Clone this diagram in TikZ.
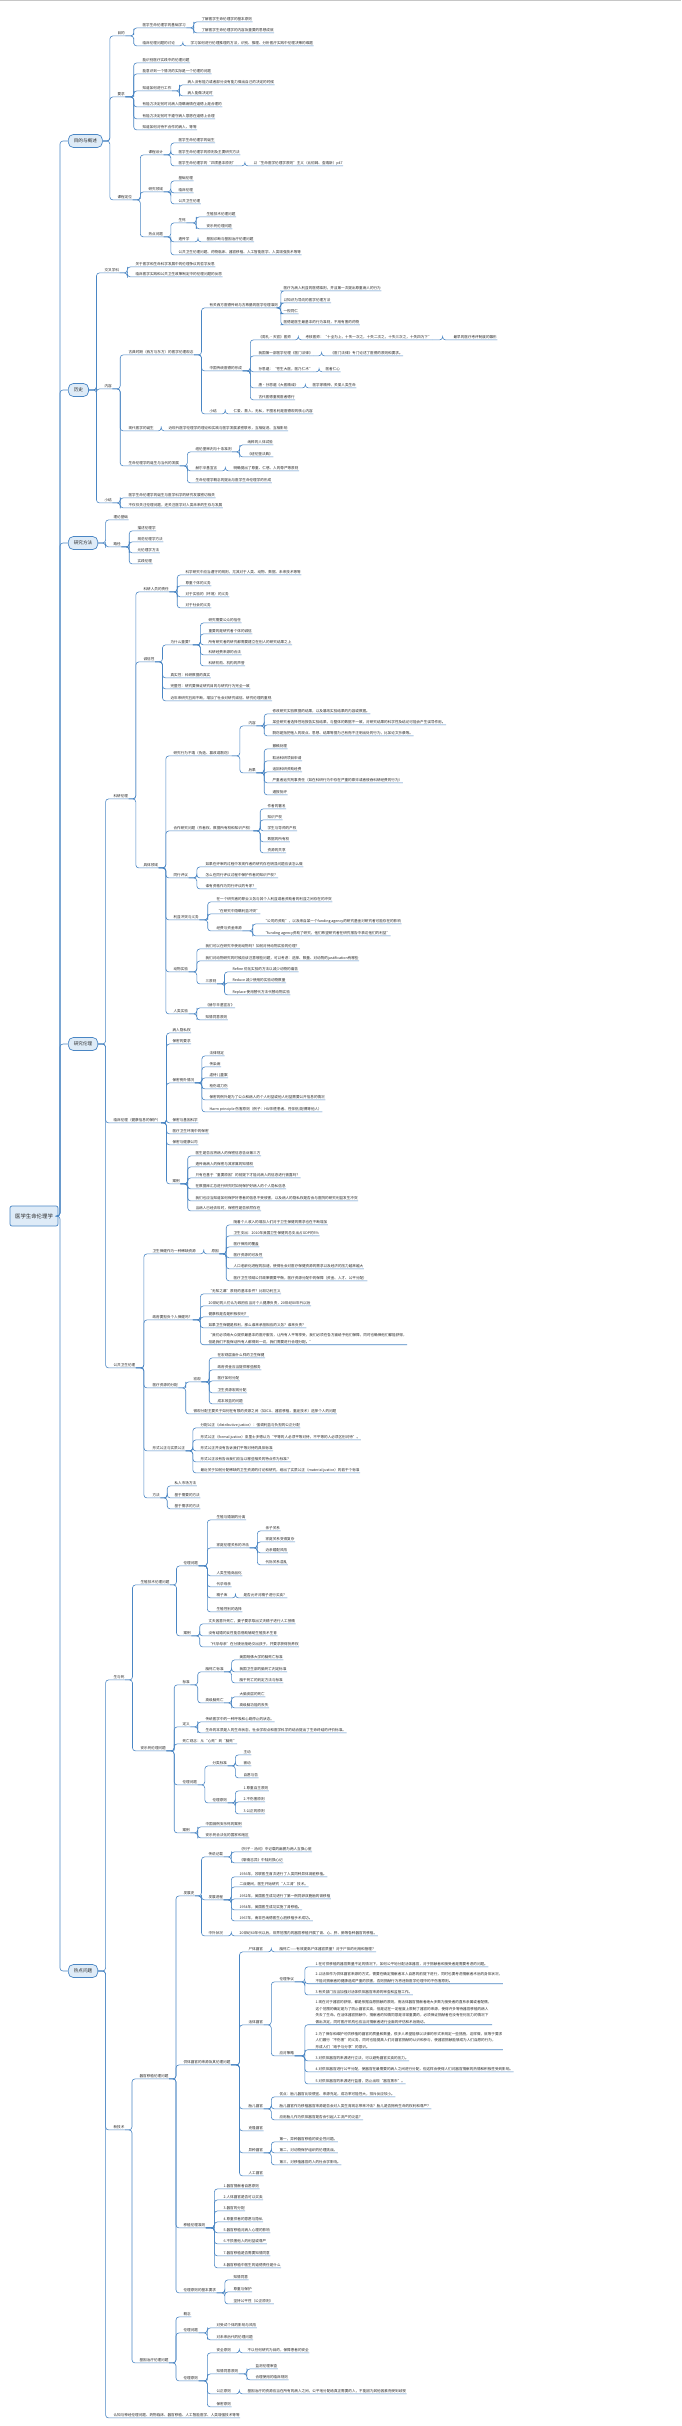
\documentclass[tikz,border=0pt]{standalone}
\usepackage{fontspec}
\setmainfont{Noto Sans CJK SC}
\usetikzlibrary{calc}
\definecolor{cL}{RGB}{74,134,196}
\definecolor{cF}{RGB}{222,235,247}
\definecolor{cT}{RGB}{40,40,40}
\newcommand\fs{\fontsize{3.6}{4.3}\selectfont}
\newcommand\fm{\fontsize{3.6}{6.6}\selectfont}
\newcommand\fbx{\fontsize{4.6}{5.5}\selectfont}
\newcommand\frt{\fontsize{5.4}{6.5}\selectfont}
\newcommand\kid[5]{\node[tn] (#2) at (#3,#4) {#5};\draw[cn] (#1.south east) -| ($(#1.south east)!.5!(#2.south west)$) |- (#2.south west) -- (#2.south east);}
\newcommand\bkid[5]{\node[tn] (#2) at (#3,#4) {#5};\draw[cn] (#1.east) -| ($(#1.east)!.5!(#2.south west)$) |- (#2.south west) -- (#2.south east);}
\newcommand\mkid[5]{\node[tm] (#2) at (#3,#4+2.7) {#5};\draw[cn] (#1.south east) -| ($(#1.south east)!.5!(#2.south west)$) |- (#2.south west) -- (#2.south east);}
\newcommand\trunk[1]{\draw[cn] (root.east) -- (60,1216) |- (#1.west);}
\begin{document}
\begin{tikzpicture}[x=1pt,y=-1pt,
  tn/.style={anchor=west,font=\fs,text=cT,inner xsep=0.4pt,inner ysep=0.9pt,text height=3.1pt,text depth=0.5pt},
  tm/.style={anchor=south west,font=\fm,text=cT,inner xsep=0.4pt,inner ysep=0.9pt,align=left},
  cn/.style={draw=cL,line width=0.6pt,rounded corners=3pt},
  bx/.style={draw=cL,fill=cF,line width=0.7pt,rounded corners=5pt,anchor=west,font=\fbx,text=cT,minimum height=13pt,inner xsep=5.5pt},
  rt/.style={draw=cL,fill=cF,line width=0.7pt,rounded corners=2pt,font=\frt,text=cT,minimum height=20pt,minimum width=48pt}]
\useasboundingbox (0,0) rectangle (681,2426);
\fill[white] (0,0) rectangle (681,2426);
\draw[gray!45,line width=1pt] (0,0.5) -- (681,0.5);

\node[rt] (root) at (34,1216) {医学生命伦理学};
\node[bx] (A) at (68,141) {目的与概述};
\node[bx] (B) at (68,390) {历史};
\node[bx] (Cb) at (68,543) {研究方法};
\node[bx] (D) at (68,1044) {研究伦理};
\node[bx] (E) at (68,1971) {热点问题};
\trunk{A}\trunk{B}\trunk{Cb}\trunk{D}\trunk{E}

% ---------- A
\bkid{A}{A1}{117}{33}{目的}
\kid{A1}{A11}{142}{25}{医学生命伦理学的基础学习}
\kid{A11}{A111}{201}{19}{了解医学生命伦理学的基本原则}
\kid{A11}{A112}{201}{30}{了解医学生命伦理学的内容及重要的思想成就}
\kid{A1}{A12}{142}{43}{临床伦理问题的讨论}
\kid{A12}{A121}{190}{43}{学习如何进行伦理推理的方法，识别、推理、分析医疗实践中伦理决策的难题}
\bkid{A}{A2}{117}{94}{要求}
\kid{A2}{A21}{142}{60}{能识别医疗实践中的伦理问题}
\kid{A2}{A22}{142}{71}{能意识到一个情况的实际是一个伦理的问题}
\kid{A2}{A23}{142}{88}{知道如何进行工作}
\kid{A23}{A231}{187}{82}{病人没有能力或者部分没有能力做出自己的决定的时候}
\kid{A23}{A232}{187}{93}{病人能做决定时}
\kid{A2}{A24}{142}{104}{有能力决定何时对病人隐瞒病情在道德上是合理的}
\kid{A2}{A25}{142}{116}{有能力决定何时不遵守病人意愿在道德上合理}
\kid{A2}{A26}{142}{127}{知道如何对待不合作的病人、等等}
\bkid{A}{A3}{117}{197}{课程定位}
\kid{A3}{A31}{148}{152}{课程设计}
\kid{A31}{A311}{178}{140}{医学生命伦理学的诞生}
\kid{A31}{A312}{178}{152}{医学生命伦理学的原则及主要研究方法}
\kid{A31}{A313}{178}{163}{医学生命伦理学的“四项基本原则”}
\kid{A313}{A3131}{253}{163}{以“生命医学伦理学原则”主义（比彻姆、查瑞斯）p47}
\kid{A3}{A32}{148}{189}{研究领域}
\kid{A32}{A321}{178}{178}{基础伦理}
\kid{A32}{A322}{178}{190}{临床伦理}
\kid{A32}{A323}{178}{201}{公共卫生伦理}
\kid{A3}{A33}{148}{234}{热点问题}
\kid{A33}{A331}{178}{220}{生死}
\kid{A331}{A3311}{206}{214}{生殖技术伦理问题}
\kid{A331}{A3312}{206}{226}{安乐死伦理问题}
\kid{A33}{A332}{178}{239}{遗传学}
\kid{A332}{A3321}{206}{239}{基因诊断与基因治疗伦理问题}
\kid{A33}{A333}{178}{252}{公共卫生伦理问题、药物临床、器官移植、人工智能医学、人类增强技术等等}

% ---------- B
\bkid{B}{B1}{104}{270}{交叉学科}
\kid{B1}{B11}{135}{264}{关于医学和生命科学发展中的伦理争议的哲学反思}
\kid{B1}{B12}{135}{274}{临床医学实践和公共卫生政策制定中的伦理问题的反思}
\bkid{B}{B2}{104}{386}{内容}
\kid{B2}{B21}{128}{352}{古典时期（西方与东方）的医学伦理观念}
\kid{B21}{B211}{209}{305}{有关西方医德传统与古希腊的医学伦理准则}
\kid{B211}{B2111}{283}{288}{医疗为病人利益的医德准则，并且第一次提出尊重病人的行为}
\kid{B211}{B2112}{283}{300}{以知识为导向的医学伦理方法}
\kid{B211}{B2113}{283}{311}{一视同仁}
\kid{B211}{B2114}{283}{322}{医德是医生最基本的行为准则，不用有害的药物}
\kid{B21}{B212}{209}{368}{中国传统医德的形成}
\kid{B212}{B2121}{258}{337}{《周礼·天官》医师}
\kid{B2121}{B21211}{305}{337}{考核医师：“十全为上，十失一次之，十失二次之，十失三次之，十失四为下”}
\kid{B21211}{B212111}{453}{337}{最早的医疗考评制度的雏形}
\kid{B212}{B2122}{258}{353}{我国第一部医学伦理《医门法律》}
\kid{B2122}{B21221}{330}{353}{《医门法律》专门论述了医德的原则和要求。}
\kid{B212}{B2123}{258}{369}{孙思邈：“苍生大医，医乃仁术”}
\kid{B2123}{B21231}{325}{369}{医者仁心}
\kid{B212}{B2124}{258}{385}{唐·孙思邈《大医精诚》}
\kid{B2124}{B21241}{312}{385}{医学家精神，关爱人类生命}
\kid{B212}{B2125}{258}{397}{古代医德重视医者德行}
\kid{B21}{B213}{209}{411}{小结}
\kid{B213}{B2131}{233}{411}{仁爱、救人、无私，不图名利是医德观的核心内容}
\kid{B2}{B22}{128}{428}{现代医学的诞生}
\kid{B22}{B221}{168}{428}{近现代医学伦理学的理论和实践与医学发展紧密联系，互相促进、互相影响}
\kid{B2}{B23}{128}{463}{生命伦理学的诞生与当代的发展}
\kid{B23}{B231}{195}{449}{纽伦堡审判与十条准则}
\kid{B231}{B2311}{247}{442}{纳粹的人体试验}
\kid{B231}{B2312}{247}{454}{《纽伦堡法典》}
\kid{B23}{B232}{195}{468}{赫尔辛基宣言}
\kid{B232}{B2321}{233}{468}{明确提出了尊重、仁慈、人的尊严等原则}
\kid{B23}{B233}{195}{480}{生命伦理学概念的提出与医学生命伦理学的形成}
\bkid{B}{B3}{104}{500}{小结}
\kid{B3}{B31}{128}{495}{医学生命伦理学的诞生与医学科学的研究发展密切相关}
\kid{B3}{B32}{128}{505}{不仅仅关注伦理问题，还关注医学对人类未来的生存与发展}

% ---------- C
\bkid{Cb}{C1}{113}{517}{理论基础}
\bkid{Cb}{C2}{113}{544}{路径}
\kid{C2}{C21}{137}{528}{描述伦理学}
\kid{C2}{C22}{137}{539}{规范伦理学方法}
\kid{C2}{C23}{137}{550}{元伦理学方法}
\kid{C2}{C24}{137}{561}{实践伦理}

% ---------- D
\bkid{D}{D1}{113}{796}{科研伦理}
\kid{D1}{D11}{143}{589}{科研人员的责任}
\kid{D11}{D111}{185}{572}{科学研究中应当遵守的规则，尤其对于人类、动物、数据、未来技术等等}
\kid{D11}{D112}{185}{583}{尊重个体的义务}
\kid{D11}{D113}{185}{594}{对于实验的（环境）的义务}
\kid{D11}{D114}{185}{605}{对于社会的义务}
\kid{D1}{D12}{143}{659}{诚信性}
\kid{D12}{D121}{170}{642}{为什么重要？}
\kid{D121}{D1211}{208}{620}{研究需要公众的信任}
\kid{D121}{D1212}{208}{631}{重要的是研究者个体的诚信}
\kid{D121}{D1213}{208}{642}{所有研究者的研究都需要建立在别人的研究结果之上}
\kid{D121}{D1214}{208}{652}{科研经费来源的合法}
\kid{D121}{D1215}{208}{663}{科研机构、机构的声誉}
\kid{D12}{D122}{170}{675}{真实性：科研数据的真实}
\kid{D12}{D123}{170}{686}{完整性：研究要保证研究目的与研究行为完全一致}
\kid{D12}{D124}{170}{698}{近年来研究丑闻不断，增加了社会对研究诚信、研究伦理的重视}
\kid{D1}{D13}{143}{865}{具体领域}
\kid{D13}{D131}{173}{753}{研究行为不端（伪造、篡改或剽窃）}
\kid{D131}{D1311}{248}{723}{内容}
\kid{D1311}{D13111}{272}{711}{修改研究实验数据的结果，以及篡改实验结果的内容或数据。}
\kid{D1311}{D13112}{272}{722}{某些研究者选择性地报告实验结果，与整体的数据不一致，对研究结果的科学性及结论可能会产生误导作用。}
\kid{D1311}{D13113}{272}{733}{剽窃是指把他人的观点、思想、结果等据为己有而不注明出处的行为，比如论文抄袭等。}
\kid{D131}{D1312}{248}{770}{后果}
\kid{D1312}{D13121}{272}{746}{撤稿处理}
\kid{D1312}{D13122}{272}{758}{取消科研项目申请}
\kid{D1312}{D13123}{272}{769}{追回科研资助经费}
\kid{D1312}{D13124}{272}{780}{严重者追究刑事责任（如在科研行为中存在严重的欺诈或者侵吞科研经费的行为）}
\kid{D1312}{D13125}{272}{792}{通报批评}
\kid{D13}{D132}{173}{828}{合作研究问题（作者权、数据所有权和知识产权）}
\kid{D132}{D1321}{267}{806}{作者的署名}
\kid{D132}{D1322}{267}{817}{知识产权}
\kid{D132}{D1323}{267}{828}{学生与导师的产权}
\kid{D132}{D1324}{267}{839}{数据的所有权}
\kid{D132}{D1325}{267}{850}{资源的共享}
\kid{D13}{D133}{173}{875}{同行评议}
\kid{D133}{D1331}{205}{864}{如果在评审的过程中发现作者的研究存在明显问题应该怎么做}
\kid{D133}{D1332}{205}{875}{怎么在同行评议过程中保护作者的知识产权？}
\kid{D133}{D1333}{205}{886}{谁有资格作为同行评议的专家？}
\kid{D13}{D134}{173}{917}{利益冲突与义务}
\kid{D134}{D1341}{216}{899}{在一个研究者的职业义务与其个人利益或者资助者的利益之间存在的冲突}
\kid{D134}{D1342}{216}{911}{“在研究中隐瞒利益冲突”}
\kid{D134}{D1343}{216}{928}{经费与资金来源}
\kid{D1343}{D13431}{263}{921}{“公司的资助”，以及来自某一个funding agency的研究基金对研究者可能存在的影响}
\kid{D1343}{D13432}{263}{933}{“funding agency资助了研究，他们希望研究者在研究报告中表达他们的利益”}
\kid{D13}{D135}{173}{969}{动物实验}
\kid{D135}{D1351}{205}{946}{我们可以在研究中使用动物吗？如何对待动物实验的伦理？}
\kid{D135}{D1352}{205}{958}{我们对动物研究的时候应该注意哪些问题，可以考虑：选择、数量、对动物的justification有哪些}
\kid{D135}{D1353}{205}{981}{三原则}
\kid{D1353}{D13531}{232}{969}{Refine 优化实验的方法以减少动物的痛苦}
\kid{D1353}{D13532}{232}{980}{Reduce 减少使用的实验动物数量}
\kid{D1353}{D13533}{232}{992}{Replace 使用替代方法代替动物实验}
\kid{D13}{D136}{173}{1011}{人类实验}
\kid{D136}{D1361}{205}{1005}{《赫尔辛基宣言》}
\kid{D136}{D1362}{205}{1017}{知情同意原则}
\bkid{D}{D2}{113}{1120}{临床伦理（健康信息的保护）}
\kid{D2}{D21}{172}{1030}{病人隐私权}
\kid{D2}{D22}{172}{1041}{保密的要求}
\kid{D2}{D23}{172}{1080}{保密例外情况}
\kid{D23}{D231}{209}{1053}{法律规定}
\kid{D23}{D232}{209}{1064}{传染病}
\kid{D23}{D233}{209}{1075}{虐待儿童案}
\kid{D23}{D234}{209}{1086}{枪伤或刀伤}
\kid{D23}{D235}{209}{1097}{保密的例外是为了公众和病人的个人利益或他人利益需要公开信息的情况}
\kid{D23}{D236}{209}{1109}{Harm principle 伤害原则（例子：HIV阳性患者、性伴侣/配偶等他人）}
\kid{D2}{D24}{172}{1120}{保密与基因科学}
\kid{D2}{D25}{172}{1131}{医疗卫生环境中的保密}
\kid{D2}{D26}{172}{1142}{保密与健康公司}
\kid{D2}{D27}{172}{1181}{案例}
\kid{D27}{D271}{195}{1153}{医生是否应将病人的保密信息告诉第三方}
\kid{D27}{D272}{195}{1164}{遗传病病人的保密与其家属的知情权}
\kid{D27}{D273}{195}{1175}{只有在基于“重要原因”的前提下才能对病人的信息进行披露吗？}
\kid{D27}{D274}{195}{1186}{在数据库汇总进行研究时如何保护好病人的个人隐私信息}
\kid{D27}{D275}{195}{1198}{我们也应当知道如何保护好患者的信息不受侵害，以及病人的隐私权是否会与医院的研究利益发生冲突}
\kid{D27}{D276}{195}{1208}{当病人已经去世时，保密性是否依然存在}
\bkid{D}{D3}{113}{1365}{公共卫生伦理}
\kid{D3}{D31}{152}{1251}{卫生保健作为一种稀缺资源}
\kid{D31}{D311}{211}{1251}{原因}
\kid{D311}{D3111}{233}{1222}{随着个人收入的增加人们对于卫生保健的需求也在不断增加}
\kid{D311}{D3112}{233}{1233}{卫生支出：2010年我国卫生保健的总支出占GDP的5\%}
\kid{D311}{D3113}{233}{1244}{医疗保险的覆盖}
\kid{D311}{D3114}{233}{1255}{医疗资源的可及性}
\kid{D311}{D3115}{233}{1266}{人口老龄化进程的加速，使得社会对医疗保健资源的需求以及经济的压力越来越大}
\kid{D311}{D3116}{233}{1278}{医疗卫生领域公共政策需要平衡，医疗资源分配中的保障（资金、人才、公平分配）}
\kid{D3}{D32}{152}{1317}{政府要担负个人保健吗？}
\kid{D32}{D321}{208}{1291}{“无知之幕”原则的基本条件？比较功利主义}
\kid{D32}{D322}{208}{1303}{20世纪的人们认为政府应当对个人健康负责，20世纪80年代以后}
\kid{D32}{D323}{208}{1314}{健康权是否是积极权利？}
\kid{D32}{D324}{208}{1325}{如果卫生保健是权利，那么谁来承担相应的义务？谁来负责？}
\mkid{D32}{D325}{208}{1342}{“我们必须给大众提供最基本的医疗服务，让所有人平等享受，我们必须在各方面给予他们保障，同时也确保他们都能获得，\\但是我们不能保证所有人都得到一切，我们需要进行合理分配。”}
\kid{D3}{D33}{152}{1385}{医疗资源的分配}
\kid{D33}{D331}{193}{1379}{宏观}
\kid{D331}{D3311}{217}{1355}{在宏观层面什么样的卫生保健}
\kid{D331}{D3312}{217}{1367}{政府资金应当提供哪些服务}
\kid{D331}{D3313}{217}{1378}{医疗如何分配}
\kid{D331}{D3314}{217}{1390}{卫生资源宏观分配}
\kid{D331}{D3315}{217}{1401}{成本效益的问题}
\kid{D33}{D332}{193}{1411}{微观分配主要关于如何在有限的资源之间（如ICU、器官移植、重症技术）选择个人的问题}
\kid{D3}{D34}{152}{1448}{形式公正与实质公正}
\kid{D34}{D341}{200}{1425}{分配公正（distributive justice）：强调利益与负担的公正分配}
\kid{D34}{D342}{200}{1437}{形式公正（formal justice）亚里士多德认为“平等的人必须平等对待，不平等的人必须区别对待”。}
\kid{D34}{D343}{200}{1448}{形式公正并没有告诉我们平等对待的具体标准}
\kid{D34}{D344}{200}{1459}{形式公正没有告诉我们应当以哪些相关的特点作为标准？}
\kid{D34}{D345}{200}{1470}{最近关于如何分配稀缺的卫生资源的讨论和研究，给出了实质公正（material justice）的若干个标准}
\kid{D3}{D35}{152}{1495}{方法}
\kid{D35}{D351}{174}{1483}{私人市场方法}
\kid{D35}{D352}{174}{1495}{基于需要的方法}
\kid{D35}{D353}{174}{1506}{基于需求的方法}

% ---------- E
\bkid{E}{E1}{113}{1677}{生与死}
\kid{E1}{E11}{140}{1582}{生殖技术伦理问题}
\kid{E11}{E111}{183}{1563}{伦理问题}
\kid{E111}{E1111}{216}{1517}{生殖与婚姻的分离}
\kid{E111}{E1112}{216}{1545}{家庭伦理关系的冲击}
\kid{E1112}{E11121}{265}{1528}{亲子关系}
\kid{E1112}{E11122}{265}{1539}{家庭关系变得复杂}
\kid{E1112}{E11123}{265}{1550}{近亲婚配风险}
\kid{E1112}{E11124}{265}{1562}{代际关系混乱}
\kid{E111}{E1113}{216}{1573}{人类生殖商品化}
\kid{E111}{E1114}{216}{1584}{代孕母亲}
\kid{E111}{E1115}{216}{1595}{精子库}
\kid{E1115}{E11151}{243}{1595}{是否允许对精子进行买卖？}
\kid{E111}{E1116}{216}{1609}{生殖性别的选择}
\kid{E11}{E112}{183}{1633}{案例}
\kid{E112}{E1121}{208}{1621}{丈夫因意外死亡，妻子要求取出丈夫精子进行人工授精}
\kid{E112}{E1122}{208}{1633}{没有结婚的女性能否借助辅助生殖技术生育}
\kid{E112}{E1123}{208}{1644}{“代孕母亲”在分娩后拒绝交出孩子，并要求获得抚养权}
\kid{E1}{E12}{140}{1748}{安乐死伦理问题}
\kid{E12}{E121}{182}{1682}{标准}
\kid{E121}{E1211}{205}{1669}{脑死亡标准}
\kid{E1211}{E12111}{239}{1657}{美国哈佛大学的脑死亡标准}
\kid{E1211}{E12112}{239}{1669}{我国卫生部的脑死亡判定标准}
\kid{E1211}{E12113}{239}{1680}{脑干死亡的判定方法与标准}
\kid{E121}{E1212}{205}{1700}{高级脑死亡}
\kid{E1212}{E12121}{239}{1694}{大脑皮层的死亡}
\kid{E1212}{E12122}{239}{1705}{高级脑功能的丧失}
\kid{E12}{E122}{182}{1724}{定义}
\kid{E122}{E1221}{205}{1719}{传统医学中的一种呼吸和心跳停止的状态。}
\kid{E122}{E1222}{205}{1730}{生命的本质是人的生命状态，社会学观点和医学科学的结合提出了生命终结的评价标准。}
\kid{E12}{E123}{182}{1741}{死亡观念：从“心死”到“脑死”}
\kid{E12}{E124}{182}{1782}{伦理问题}
\kid{E124}{E1241}{212}{1763}{分类标准}
\kid{E1241}{E12411}{243}{1752}{主动}
\kid{E1241}{E12412}{243}{1763}{被动}
\kid{E1241}{E12413}{243}{1775}{自愿与否}
\kid{E124}{E1242}{212}{1800}{伦理原则}
\kid{E1242}{E12421}{243}{1788}{1.尊重自主原则}
\kid{E1242}{E12422}{243}{1799}{2.不伤害原则}
\kid{E1242}{E12423}{243}{1811}{3.公正的原则}
\kid{E12}{E125}{182}{1830}{案例}
\kid{E125}{E1251}{205}{1824}{中国首例安乐死的案例}
\kid{E125}{E1252}{205}{1835}{安乐死合法化的国家和地区}
\bkid{E}{E2}{113}{2127}{新技术}
\kid{E2}{E21}{139}{2076}{器官移植伦理问题}
\kid{E21}{E211}{183}{1893}{发展史}
\kid{E211}{E2111}{208}{1854}{传说记载}
\kid{E2111}{E21111}{239}{1849}{《列子·汤问》中记载的扁鹊为两人互换心脏}
\kid{E2111}{E21112}{239}{1860}{《聊斋志异》中陆判换心记}
\kid{E211}{E2112}{208}{1897}{发展进程}
\kid{E2112}{E21121}{239}{1874}{1936年，苏联医生首次进行了人类同种异体肾脏移植。}
\kid{E2112}{E21122}{239}{1884}{二战期间，医生开始研究“人工肾”技术。}
\kid{E2112}{E21123}{239}{1896}{1952年，美国医生成功进行了第一例同卵双胞胎的肾移植}
\kid{E2112}{E21124}{239}{1907}{1954年，美国医生成功实施了肾移植。}
\kid{E2112}{E21125}{239}{1918}{1967年，南非巴纳德医生心脏移植手术成功。}
\kid{E211}{E2113}{208}{1933}{中外状况}
\kid{E2113}{E21131}{239}{1933}{20世纪60年代以后，世界范围内的器官移植开展了肾、心、肝、肺等各种器官的移植。}
\kid{E21}{E212}{183}{2062}{供体器官的来源及其伦理问题}
\kid{E212}{E2121}{248}{1949}{尸体器官}
\kid{E2121}{E21211}{279}{1949}{脑死亡——有效提高尸体器官质量？对于尸体的利用和管理？}
\kid{E212}{E2122}{248}{2022}{活体器官}
\kid{E2122}{E21221}{279}{1979}{伦理争议}
\kid{E21221}{E212211}{315}{1964}{1.在可供移植的器官数量不足的情况下，如何公平地分配活体器官，对于捐献者和接受者是需要考虑的问题。}
\mkid{E21221}{E212212}{315}{1981}{2.以活体作为供体器官来源的方式，需要在确定捐献者本人自愿的前提下进行，同时也要考虑捐献者术后的身体状况，\\不能对捐献者的健康造成严重的损害，否则捐献行为将违背医学伦理中的不伤害原则。}
\kid{E21221}{E212213}{315}{1992}{3.有关部门应当加强对活体供体器官来源的审查和监管工作。}
\kid{E2122}{E21222}{279}{2053}{应对策略}
\mkid{E21222}{E212221}{315}{2022}{1.现在对于器官的获得，都是依据自愿捐献的原则，而活体器官捐献者绝大多数为接受者的直系亲属或者配偶，\\这个范围的确定是为了防止器官买卖，但是这在一定程度上限制了器官的来源，使得许多等待器官移植的病人\\失去了生命。在活体器官捐献中，捐献者的知情同意是非常重要的，必须保证捐献者在没有任何压力的情况下\\做出决定，同时医疗机构也应当对捐献者进行全面的评估和术后随访。}
\mkid{E21222}{E212222}{315}{2047}{2.为了保存和维护可供移植的器官的质量和数量，很多人希望能够以法律的形式来规定一些措施，这样做，就等于要求\\人们履行“不伤害”的义务，同时也能提高人们对器官捐献的认识和参与，使器官捐献能够成为人们自愿的行为，\\形成人们“给予与分享”的意识。}
\kid{E21222}{E212223}{315}{2058}{3.对供体器官的来源进行立法，可以避免器官买卖的压力。}
\kid{E21222}{E212224}{315}{2069}{4.对供体器官进行公平分配，使器官在最需要的病人之间进行分配，但这样会使得人们对器官捐献的热情和积极性受到影响。}
\kid{E21222}{E212225}{315}{2081}{5.对供体器官的来源进行监督，防止出现“器官黑市”。}
\kid{E212}{E2123}{248}{2106}{胎儿器官}
\kid{E2123}{E21231}{279}{2094}{优点：胎儿器官比较便宜、来源充足，成功率可能性大，排斥反应较小。}
\kid{E2123}{E21232}{279}{2106}{胎儿器官作为移植器官来源是否会对人类生育观念带来冲击？胎儿是否拥有生命的权利和尊严？}
\kid{E2123}{E21233}{279}{2117}{应用胎儿作为供体器官是否会引起人工流产的泛滥？}
\kid{E212}{E2124}{248}{2128}{克隆器官}
\kid{E212}{E2125}{248}{2150}{异种器官}
\kid{E2125}{E21251}{279}{2139}{第一，异种器官移植的安全性问题。}
\kid{E2125}{E21252}{279}{2150}{第二，对动物保护组织的伦理挑战。}
\kid{E2125}{E21253}{279}{2162}{第三，对移植器官的人的社会学影响。}
\kid{E212}{E2126}{248}{2173}{人工器官}
\kid{E21}{E213}{183}{2225}{移植伦理准则}
\kid{E213}{E2131}{223}{2186}{1.器官捐献者自愿原则}
\kid{E213}{E2132}{223}{2197}{2.人体器官是否可以买卖}
\kid{E213}{E2133}{223}{2208}{3.器官的分配}
\kid{E213}{E2134}{223}{2219}{4.尊重供者的意愿与隐私}
\kid{E213}{E2135}{223}{2230}{5.器官移植对病人心理的影响}
\kid{E213}{E2136}{223}{2241}{6.不损害他人的利益或尊严}
\kid{E213}{E2137}{223}{2253}{7.器官移植是否需要知情同意}
\kid{E213}{E2138}{223}{2265}{8.器官移植中医生的道德责任是什么}
\kid{E21}{E214}{183}{2290}{伦理原则的基本要求}
\kid{E214}{E2141}{233}{2277}{知情同意}
\kid{E214}{E2142}{233}{2289}{尊重与保护}
\kid{E214}{E2143}{233}{2301}{坚持公平性（公正原则）}
\kid{E2}{E22}{139}{2360}{基因治疗伦理问题}
\kid{E22}{E221}{183}{2314}{概念}
\kid{E22}{E222}{183}{2330}{伦理问题}
\kid{E222}{E2221}{216}{2325}{对受试个体的影响与风险}
\kid{E222}{E2222}{216}{2337}{对未来后代的伦理问题}
\kid{E22}{E223}{183}{2378}{伦理原则}
\kid{E223}{E2231}{216}{2350}{安全原则}
\kid{E2231}{E22311}{247}{2350}{不以任何研究为目的，保障患者的安全}
\kid{E223}{E2232}{216}{2371}{知情同意原则}
\kid{E2232}{E22321}{255}{2366}{监测伦理审查}
\kid{E2232}{E22322}{255}{2377}{合理使用的临床规则}
\kid{E223}{E2233}{216}{2391}{公正原则}
\kid{E2233}{E22331}{247}{2391}{基因治疗的资源应当在所有的病人之间，公平地分配给真正需要的人，不能因为其他因素而受到歧视}
\kid{E223}{E2234}{216}{2404}{保密原则}
\bkid{E}{E3}{113}{2415}{认知与神经伦理问题、药物临床、器官移植、人工智能医学、人类增强技术等等}
\end{tikzpicture}
\end{document}
